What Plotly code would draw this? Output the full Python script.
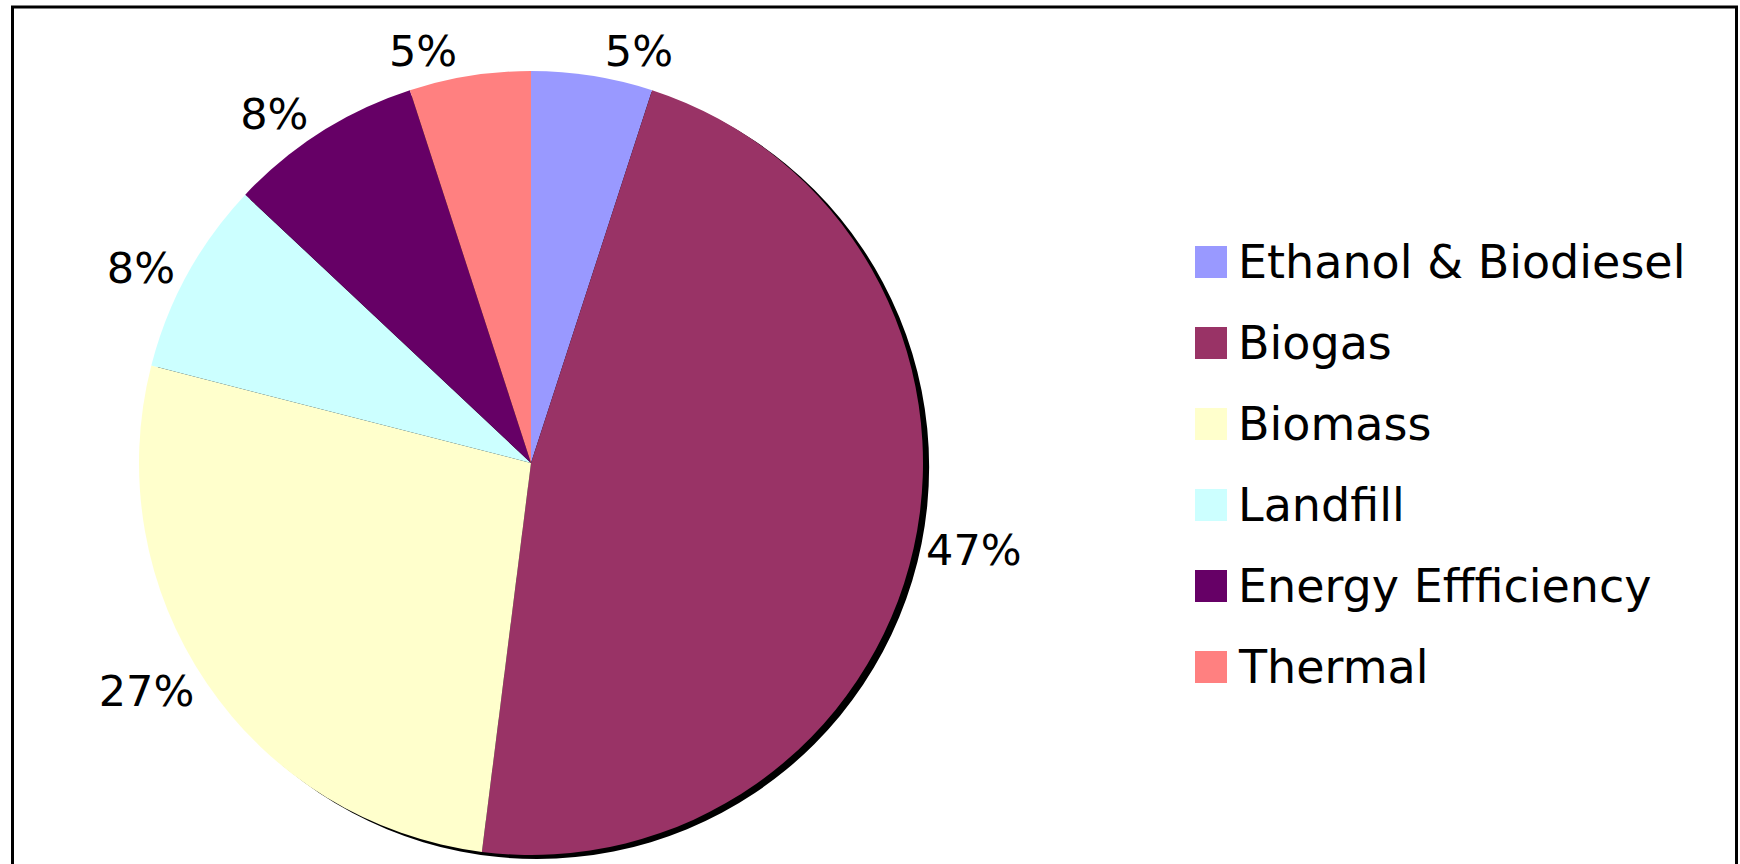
import plotly.graph_objects as go

# slice data, clockwise from 12 o'clock
categories = ["Ethanol & Biodiesel", "Biogas", "Biomass", "Landfill", "Energy Effficiency", "Thermal"]
shares = [5, 47, 27, 8, 8, 5]
colors = ["#9999FF", "#993366", "#FFFFCC", "#CCFFFF", "#660066", "#FF8080"]

W, H = 1740, 864
FONT = "DejaVu Sans"

# pie placement in pixels
cx, cy, r = 531, 463, 392
shadow_dx, shadow_dy = 6, 4


def px(x):
    return x / W


def py(y):
    return 1 - y / H


def dom(x_c, y_c):
    return dict(x=[px(x_c - r), px(x_c + r)], y=[py(y_c + r), py(y_c - r)])


fig = go.Figure()

# drop shadow behind the pie
fig.add_trace(go.Pie(
    labels=["shadow"],
    values=[1],
    marker=dict(colors=["black"], line=dict(width=0)),
    textinfo="none",
    hoverinfo="skip",
    showlegend=False,
    sort=False,
    domain=dom(cx + shadow_dx, cy + shadow_dy),
))

fig.add_trace(go.Pie(
    labels=categories,
    values=shares,
    marker=dict(colors=colors, line=dict(width=0)),
    sort=False,
    direction="clockwise",
    rotation=0,
    textposition="outside",
    texttemplate="%{percent:.0%}",
    textfont=dict(family=FONT, size=43, color="black"),
    showlegend=False,
    domain=dom(cx, cy),
))

# legend drawn by hand so the swatches can be large
shapes = []
annotations = []
for i, (name, color) in enumerate(zip(categories, colors)):
    yc = 262 + 81 * i
    shapes.append(dict(
        type="rect", xref="paper", yref="paper",
        x0=px(1195), x1=px(1227),
        y0=py(yc + 16), y1=py(yc - 16),
        fillcolor=color, line=dict(width=0),
    ))
    annotations.append(dict(
        text=name, xref="paper", yref="paper",
        x=px(1236), y=py(yc),
        xanchor="left", yanchor="middle", showarrow=False,
        font=dict(family=FONT, size=46, color="black"),
    ))

# outer frame (open at the bottom, as in the original)
shapes.append(dict(
    type="rect", xref="paper", yref="paper",
    x0=px(12.5), x1=px(1736.5), y0=-0.05, y1=py(7),
    line=dict(color="black", width=3), fillcolor="rgba(0,0,0,0)",
))

fig.update_layout(
    width=W,
    height=H,
    margin=dict(l=0, r=0, t=0, b=0),
    paper_bgcolor="white",
    plot_bgcolor="white",
    font=dict(family=FONT, color="black"),
    shapes=shapes,
    annotations=annotations,
)

# drop the default body margin so the figure fills the window exactly
fig.write_html(
    "out.html",
    config={"displayModeBar": False},
    post_script="document.body.style.margin='0';document.body.style.overflow='hidden';",
)
